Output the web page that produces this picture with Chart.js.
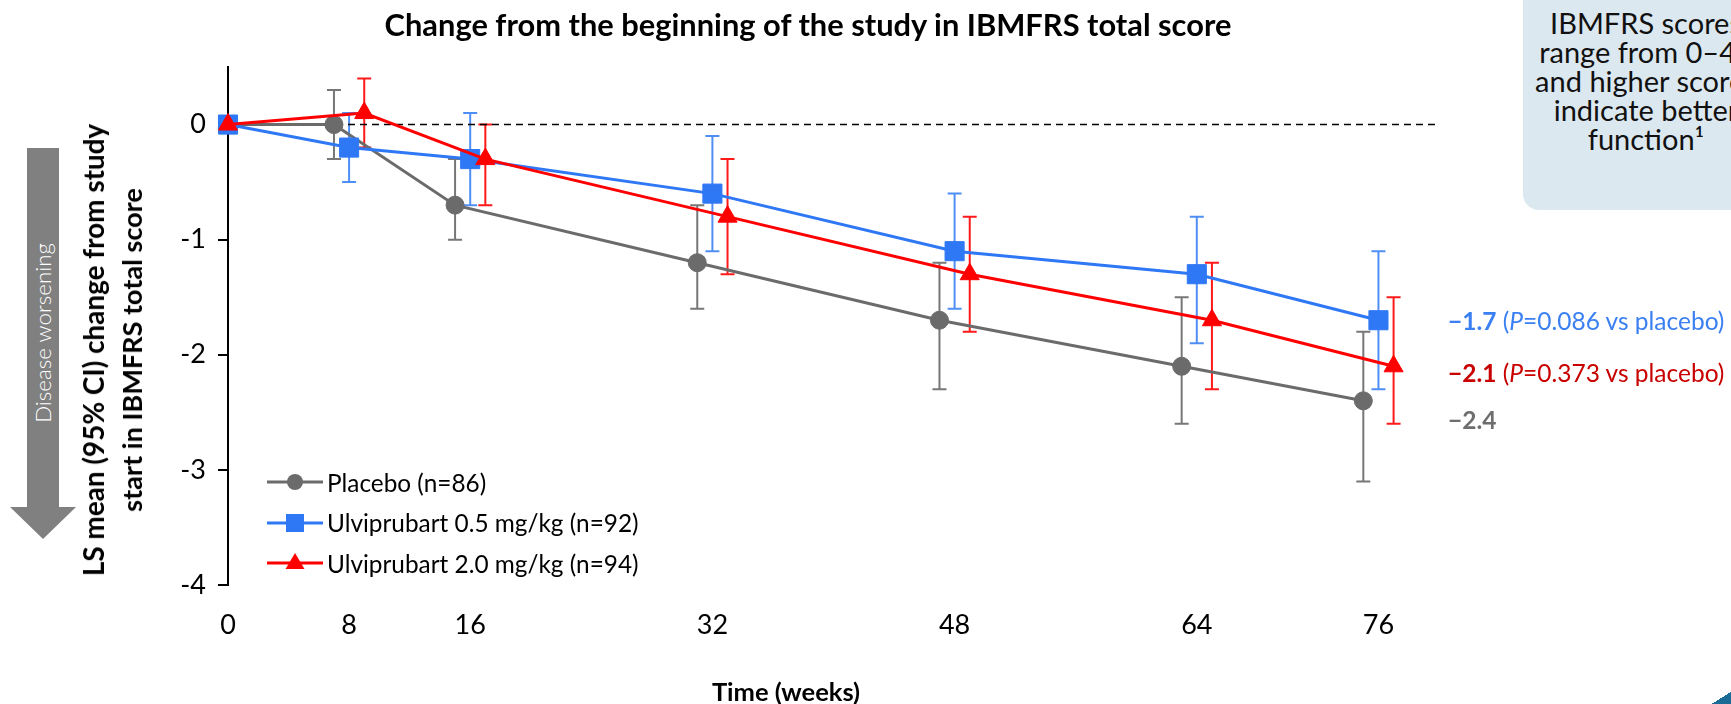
<!DOCTYPE html>
<html>
<head>
<meta charset="utf-8">
<script src="https://cdn.jsdelivr.net/npm/chart.js@4.4.1/dist/chart.umd.min.js"></script>
<style>
  html, body { margin: 0; padding: 0; background: #fff; }
  body { width: 1731px; height: 704px; position: relative; overflow: hidden; font-family: Lato, "Open Sans", sans-serif; color: #000; }
  #wrap { position: absolute; left: 0; top: 0; width: 1731px; height: 704px; }
  .abs { position: absolute; white-space: nowrap; line-height: 1; }
  .center { transform: translate(-50%, -50%); text-align: center; }
  #title { left: 808px; top: 25px; font-weight: bold; font-size: 26px; }
  #ytitle { left: 113px; top: 350px; font-weight: bold; font-size: 24px; line-height: 37px; transform: translate(-50%, -50%) rotate(-90deg); text-align: center; }
  #xtitle { left: 786px; top: 692px; font-weight: bold; font-size: 20px; }
  #shaft { position: absolute; left: 27px; top: 148px; width: 32px; height: 359px; background: #808080; }
  #head { position: absolute; left: 10px; top: 507px; width: 0; height: 0; border-left: 33px solid transparent; border-right: 33px solid transparent; border-top: 32px solid #808080; }
  #worse { left: 43px; top: 333px; color: #fff; font-weight: 300; font-size: 19px; transform: translate(-50%, -50%) rotate(-90deg); }
  #infobox { position: absolute; left: 1523px; top: -30px; width: 260px; height: 240px; background: #dce8f0; border-radius: 16px; }
  #infotext { left: 1646px; top: 80px; font-size: 29px; line-height: 29px; color: #111; }
  #legend { position: absolute; left: 267px; top: 462px; font-size: 21px; }
  .lrow { display: flex; align-items: center; height: 40.5px; white-space: nowrap; }
  .lrow canvas { margin-right: 4px; }
  .note { left: 1448px; font-size: 20px; transform: translateY(-50%); }
  .note b { font-weight: bold; }
  #logo { position: absolute; left: 1712px; top: 694px; width: 40px; height: 30px; background: #1b6b97; transform: rotate(-32deg); border-radius: 6px; }
</style>
</head>
<body>
<div id="wrap"><canvas id="chart"></canvas></div>

<div id="title" class="abs center">Change from the beginning of the study in IBMFRS total score</div>
<div id="ytitle" class="abs"><span id="yline1">LS mean (95% CI) change from study</span><br><span id="yline2">start in IBMFRS total score</span></div>
<div id="xtitle" class="abs center">Time (weeks)</div>

<div id="shaft"></div>
<div id="head"></div>
<div id="worse" class="abs">Disease worsening</div>

<div id="infobox"></div>
<div id="infotext" class="abs center">IBMFRS scores<br>range from 0–40<br>and higher scores<br>indicate better<br>function¹</div>

<div id="legend"></div>

<div id="note1" class="abs note" style="top:321px;color:#3b80f2"><b>−1.7</b> (<i>P</i>=0.086 vs placebo)</div>
<div id="note2" class="abs note" style="top:373px;color:#c80000"><b>−2.1</b> (<i>P</i>=0.373 vs placebo)</div>
<div id="note3" class="abs note" style="top:420px;color:#6e6e6e"><b>−2.4</b></div>

<div id="logo"></div>

<script>
// Data
const weeks = [0, 8, 16, 32, 48, 64, 76];
const yTicks = [0, -1, -2, -3, -4];
const seriesLabels = ['Placebo (n=86)', 'Ulviprubart 0.5 mg/kg (n=92)', 'Ulviprubart 2.0 mg/kg (n=94)'];

const placeboMean = [0, 0, -0.7, -1.2, -1.7, -2.1, -2.4];
const placeboLow = [null, -0.3, -1.0, -1.6, -2.3, -2.6, -3.1];
const placeboHigh = [null, 0.3, -0.3, -0.7, -1.2, -1.5, -1.8];

const lowDoseMean = [0, -0.2, -0.3, -0.6, -1.1, -1.3, -1.7];
const lowDoseLow = [null, -0.5, -0.7, -1.1, -1.6, -1.9, -2.3];
const lowDoseHigh = [null, 0.1, 0.1, -0.1, -0.6, -0.8, -1.1];

const highDoseMean = [0, 0.1, -0.3, -0.8, -1.3, -1.7, -2.1];
const highDoseLow = [null, -0.2, -0.7, -1.3, -1.8, -2.3, -2.6];
const highDoseHigh = [null, 0.4, 0.0, -0.3, -0.8, -1.2, -1.5];

// Series styling (dodge = horizontal offset in weeks so the bars don't overlap)
const series = [
  { label: seriesLabels[0], mean: placeboMean, low: placeboLow, high: placeboHigh, dodge: -1, color: '#6b6b6b', barColor: '#777777', style: 'circle', radius: 9, order: 3 },
  { label: seriesLabels[1], mean: lowDoseMean, low: lowDoseLow, high: lowDoseHigh, dodge: 0, color: '#2f78f5', barColor: '#4f8ff5', style: 'rect', radius: 13.5, order: 2 },
  { label: seriesLabels[2], mean: highDoseMean, low: highDoseLow, high: highDoseHigh, dodge: 1, color: '#ff0000', barColor: '#ff1a1a', style: 'triangle', radius: 11, order: 1 },
];

const xMax = 80;

// error bars
const errorBars = {
  id: 'errorBars',
  beforeDatasetsDraw(chart) {
    const { ctx } = chart;
    const y = chart.scales.y;
    series.forEach((s, si) => {
      const meta = chart.getDatasetMeta(si);
      ctx.save();
      ctx.strokeStyle = s.barColor;
      ctx.lineWidth = 2;
      s.mean.forEach((m, i) => {
        if (s.low[i] == null) return;
        const x = meta.data[i].x;
        const yl = y.getPixelForValue(s.low[i]);
        const yh = y.getPixelForValue(s.high[i]);
        ctx.beginPath();
        ctx.moveTo(x, yl); ctx.lineTo(x, yh);
        ctx.moveTo(x - 7, yl); ctx.lineTo(x + 7, yl);
        ctx.moveTo(x - 7, yh); ctx.lineTo(x + 7, yh);
        ctx.stroke();
      });
      ctx.restore();
    });
  }
};

const datasets = series.map(s => ({
  label: s.label,
  data: weeks.map((w, i) => ({ x: w === 0 ? w : w + s.dodge, y: s.mean[i] })),
  borderColor: s.color,
  backgroundColor: s.color,
  borderWidth: 3,
  pointStyle: s.style,
  pointRadius: s.radius,
  pointBorderWidth: 1,
  pointBorderColor: s.color,
  pointBackgroundColor: s.color,
  tension: 0,
  clip: false,
  order: s.order,
}));

datasets.push({
  label: 'zero',
  data: [{ x: 0, y: 0 }, { x: xMax, y: 0 }],
  borderColor: '#000',
  borderWidth: 1.5,
  borderDash: [7, 5],
  pointRadius: 0,
  order: 10,
});

new Chart(document.getElementById('chart'), {
  type: 'line',
  data: { datasets },
  options: {
    responsive: true,
    maintainAspectRatio: false,
    animation: false,
    events: [],
    layout: { padding: { left: 0, top: 67, right: 1731 - 1439, bottom: 0 } },
    plugins: { legend: { display: false }, tooltip: { enabled: false }, title: { display: false } },
    scales: {
      x: {
        type: 'linear', min: 0, max: xMax,
        afterBuildTicks: sc => { sc.ticks = weeks.map(v => ({ value: v })); },
        afterFit: sc => { sc.height = 119; },
        border: { display: false },
        grid: { display: false },
        ticks: { color: '#000', font: { family: 'Lato', size: 27 }, padding: 16, maxRotation: 0, autoSkip: false },
      },
      y: {
        type: 'linear', min: -4, max: 0.5,
        afterBuildTicks: sc => { sc.ticks = yTicks.map(v => ({ value: v })); },
        afterFit: sc => { sc.width = 228; },
        border: { display: true, color: '#000', width: 2 },
        grid: { display: true, drawOnChartArea: false, drawTicks: true, tickLength: 10, color: '#000', lineWidth: 2 },
        ticks: { color: '#000', font: { family: 'Lato', size: 27 }, padding: 12 },
      },
    },
  },
  plugins: [errorBars],
});

// legend (HTML)
const legend = document.getElementById('legend');
series.forEach(s => {
  const row = document.createElement('div');
  row.className = 'lrow';
  const icon = document.createElement('canvas');
  icon.width = 56; icon.height = 26;
  const c = icon.getContext('2d');
  c.strokeStyle = s.color; c.fillStyle = s.color; c.lineWidth = 3;
  c.beginPath(); c.moveTo(0, 13); c.lineTo(56, 13); c.stroke();
  c.beginPath();
  if (s.style === 'circle') c.arc(28, 13, 8, 0, Math.PI * 2);
  else if (s.style === 'rect') c.rect(19, 4, 18, 18);
  else { c.moveTo(28, 3); c.lineTo(37.5, 19); c.lineTo(18.5, 19); c.closePath(); }
  c.fill();
  const txt = document.createElement('span');
  txt.textContent = s.label;
  row.appendChild(icon); row.appendChild(txt);
  legend.appendChild(row);
});

// fit font sizes to the reference widths
function fitSize(el, target) {
  const size = parseFloat(getComputedStyle(el).fontSize);
  const w = el.offsetWidth;
  return w > 0 ? size * target / w : size;
}
const setSize = (el, px) => { el.style.fontSize = px.toFixed(2) + 'px'; };

setSize(document.getElementById('title'), fitSize(document.getElementById('title'), 847));
const y1 = document.getElementById('yline1'), y2 = document.getElementById('yline2');
const s1 = fitSize(y1, 452), s2 = fitSize(y2, 324);
setSize(y1, s1); setSize(y2, s2);
setSize(document.getElementById('xtitle'), fitSize(document.getElementById('xtitle'), 148));
setSize(document.getElementById('worse'), fitSize(document.getElementById('worse'), 180));
setSize(legend, fitSize(legend.lastChild.lastChild, 312));
const noteSize = fitSize(document.getElementById('note1'), 277);
['note1', 'note2', 'note3'].forEach(id => setSize(document.getElementById(id), noteSize));
</script>
</body>
</html>
